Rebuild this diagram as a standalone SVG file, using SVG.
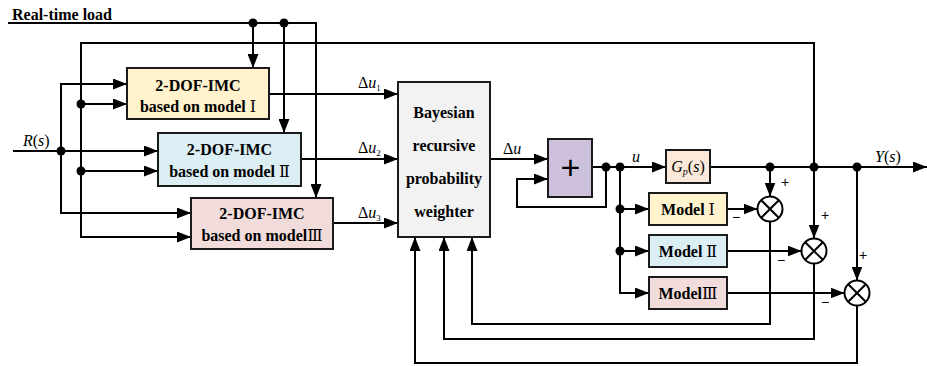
<svg xmlns="http://www.w3.org/2000/svg" width="927" height="366" viewBox="0 0 927 366">
<style>
.ln{fill:none;stroke:#000;stroke-width:2}
.ar{fill:none;stroke:#000;stroke-width:2;marker-end:url(#ah)}
.bx{stroke:#1a1a1a;stroke-width:2}
.t{font-family:"Liberation Serif","Noto Sans CJK SC",serif;font-weight:bold;font-size:16px;text-anchor:middle;fill:#000}
.n{font-weight:normal;font-family:"DejaVu Serif","Noto Sans CJK SC",serif}
.m{font-family:"Liberation Serif",serif;font-size:16px;fill:#000}
.i{font-style:italic}
.sg{font-family:"Liberation Sans",sans-serif;font-size:14px;fill:#000}
.dot{fill:#000}
</style>
<defs>
<marker id="ah" markerUnits="userSpaceOnUse" markerWidth="14" markerHeight="11" refX="14" refY="5.5" orient="auto">
<path d="M0,0 L14,5.5 L0,11 z" fill="#000"/>
</marker>
</defs>
<rect width="927" height="366" fill="#fff"/>

<g id="connectors">
<path class="ar" d="M8,23 H316 V198"/>
<path class="ar" d="M253,23 V68"/>
<path class="ar" d="M284,23 V133"/>
<path class="ar" d="M814,167 V43 H81 V237 H191"/>
<path class="ar" d="M81,104 H127"/>
<path class="ar" d="M81,171 H158"/>
<path class="ar" d="M13,151 H158"/>
<path class="ar" d="M61,151 V84 H127"/>
<path class="ar" d="M61,151 V213 H191"/>
<path class="ar" d="M269,94 H398"/>
<path class="ar" d="M301,159 H398"/>
<path class="ar" d="M333,223 H398"/>
<path class="ar" d="M490,159 H548"/>
<path class="ar" d="M592,167 H666"/>
<path class="ar" d="M606,167 V207 H517 V179 H548"/>
<path class="ar" d="M620,167 V293 H649"/>
<path class="ar" d="M620,209 H649"/>
<path class="ar" d="M620,251 H649"/>
<path class="ar" d="M710,167 H927"/>
<path class="ar" d="M770,167 V196.5"/>
<path class="ar" d="M814,167 V238.5"/>
<path class="ar" d="M857,167 V280.5"/>
<path class="ar" d="M727,209 H757.5"/>
<path class="ar" d="M727,251 H801.5"/>
<path class="ar" d="M727,293 H844.5"/>
<path class="ar" d="M770,221.5 V324 H472 V237"/>
<path class="ar" d="M814,263.5 V339 H444 V237"/>
<path class="ar" d="M857,305.5 V363 H415 V237"/>
<circle class="dot" cx="253" cy="23" r="4.5"/>
<circle class="dot" cx="284" cy="23" r="4.5"/>
<circle class="dot" cx="81" cy="104" r="4.5"/>
<circle class="dot" cx="81" cy="171" r="4.5"/>
<circle class="dot" cx="61" cy="151" r="4.5"/>
<circle class="dot" cx="606" cy="167" r="4.5"/>
<circle class="dot" cx="620" cy="167" r="4.5"/>
<circle class="dot" cx="620" cy="209" r="4.5"/>
<circle class="dot" cx="620" cy="251" r="4.5"/>
<circle class="dot" cx="770" cy="167" r="4.5"/>
<circle class="dot" cx="814" cy="167" r="4.5"/>
<circle class="dot" cx="857" cy="167" r="4.5"/>
<text class="m" x="12" y="20" style="font-weight:bold">Real-time load</text>
<text class="m" x="23" y="146"><tspan class="i">R</tspan>(<tspan class="i">s</tspan>)</text>
<text class="m" x="358" y="88">Δ<tspan class="i">u</tspan><tspan font-size="9" dy="3">1</tspan></text>
<text class="m" x="358" y="153">Δ<tspan class="i">u</tspan><tspan font-size="9" dy="3">2</tspan></text>
<text class="m" x="358" y="218">Δ<tspan class="i">u</tspan><tspan font-size="9" dy="3">3</tspan></text>
<text class="m" x="503" y="154">Δ<tspan class="i">u</tspan></text>
<text class="m i" x="632" y="162">u</text>
<text class="m" x="875" y="162"><tspan class="i">Y</tspan>(<tspan class="i">s</tspan>)</text>
<text class="sg" x="781" y="187">+</text>
<text class="sg" x="821" y="220">+</text>
<text class="sg" x="859" y="260">+</text>
<text class="sg" x="732" y="222">−</text>
<text class="sg" x="777" y="265">−</text>
<text class="sg" x="821" y="307">−</text>
</g>

<g id="imc1">
<rect class="bx" x="127" y="68" width="142" height="51" fill="#fff2cc"/>
<text class="t" x="198" y="91">2-DOF-IMC</text>
<text class="t" x="198" y="112">based on model <tspan class="n">Ⅰ</tspan></text>
</g>
<g id="imc2">
<rect class="bx" x="158" y="133" width="143" height="53" fill="#daeef3"/>
<text class="t" x="229.5" y="155">2-DOF-IMC</text>
<text class="t" x="229.5" y="177">based on model <tspan class="n">Ⅱ</tspan></text>
</g>
<g id="imc3">
<rect class="bx" x="191" y="198" width="142" height="51" fill="#f2dcdb"/>
<text class="t" x="262" y="219">2-DOF-IMC</text>
<text class="t" x="262" y="241">based on model<tspan class="n">Ⅲ</tspan></text>
</g>
<g id="weighter">
<rect class="bx" x="398" y="82" width="92" height="155" fill="#f2f2f2"/>
<text class="t" x="444" y="118">Bayesian</text>
<text class="t" x="444" y="151">recursive</text>
<text class="t" x="444" y="184">probability</text>
<text class="t" x="444" y="217">weighter</text>
</g>
<g id="integrator">
<rect class="bx" x="548" y="139" width="44" height="58" fill="#ccc0da"/>
<text x="570.5" y="179" style="font-family:'Liberation Sans',sans-serif;font-size:34px;text-anchor:middle">+</text>
</g>
<g id="plant">
<rect class="bx" x="666" y="150" width="44" height="33" fill="#fde9d9"/>
<text class="m" x="688" y="172" text-anchor="middle"><tspan class="i">G</tspan><tspan class="i" font-size="10" dy="3">p</tspan><tspan dy="-3">(</tspan><tspan class="i">s</tspan>)</text>
</g>
<g id="model1">
<rect class="bx" x="649" y="193" width="78" height="32" fill="#fff2cc"/>
<text class="t" x="688" y="215">Model <tspan class="n">Ⅰ</tspan></text>
</g>
<g id="model2">
<rect class="bx" x="649" y="235" width="78" height="32" fill="#daeef3"/>
<text class="t" x="688" y="257">Model <tspan class="n">Ⅱ</tspan></text>
</g>
<g id="model3">
<rect class="bx" x="649" y="277" width="78" height="32" fill="#f2dcdb"/>
<text class="t" x="688" y="299">Model<tspan class="n">Ⅲ</tspan></text>
</g>
<g id="sum1">
<circle cx="770" cy="209" r="12.5" fill="#fff" stroke="#000" stroke-width="2"/>
<path class="ln" d="M761.2,200.2 L778.8,217.8 M778.8,200.2 L761.2,217.8"/>
</g>
<g id="sum2">
<circle cx="814" cy="251" r="12.5" fill="#fff" stroke="#000" stroke-width="2"/>
<path class="ln" d="M805.2,242.2 L822.8,259.8 M822.8,242.2 L805.2,259.8"/>
</g>
<g id="sum3">
<circle cx="857" cy="293" r="12.5" fill="#fff" stroke="#000" stroke-width="2"/>
<path class="ln" d="M848.2,284.2 L865.8,301.8 M865.8,284.2 L848.2,301.8"/>
</g>
</svg>
